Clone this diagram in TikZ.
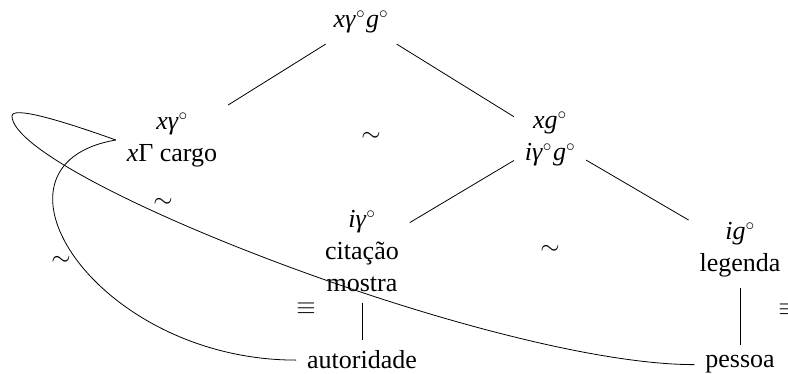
\documentclass[tikz,border=0pt]{standalone}
\usepackage{fontspec}
\setmainfont{Liberation Serif}
\begin{document}
\begin{tikzpicture}[x=1pt,y=-1pt]
\tikzset{
  lbl/.style={font=\fontsize{26}{32}\selectfont, inner sep=11pt, outer sep=0pt, align=center},
  rel/.style={font=\fontsize{30}{36}\selectfont, inner sep=0pt},
  edge/.style={line width=0.8pt},
}
\useasboundingbox (0,0) rectangle (788,374);
\node[lbl] (top) at (361,22) {\textit{xγ}$^\circ$\kern1pt\textit{g}$^\circ$};
\node[lbl] (xc) at (172,140) {\textit{xγ}$^\circ$\\\textit{x}Γ cargo};
\node[lbl] (xg) at (550,139) {\textit{xg}$^\circ$\\\textit{iγ}$^\circ$\kern1pt\textit{g}$^\circ$};
\node[lbl] (ic) at (362,251) {\textit{iγ}$^\circ$\\citação\\mostra};
\node[lbl] (il) at (740,250) {\textit{ig}$^\circ$\\legenda};
\node[lbl, anchor=base] (au) at (362,369) {autoridade};
\node[lbl, anchor=base] (pe) at (740,368) {pessoa};
\draw[edge] (top) -- (xc);
\draw[edge] (top) -- (xg);
\draw[edge] (xg) -- (ic);
\draw[edge] (xg) -- (il);
\draw[edge] (ic) -- (au);
\draw[edge] (il) -- (pe);
\draw[edge] (pe.west) .. controls +(-200,0) and (12,176) .. (12,116)
  .. controls (12,106) and (60,120) .. (xc.west);
\draw[edge] (xc.west) .. controls (-30,165) and +(-200,0) .. (au.west);
\node[rel] (s1) at (371,137) {$\sim$};
\node[rel] (s2) at (550,250) {$\sim$};
\node[rel] (s3) at (163,203) {$\sim$};
\node[rel] (s4) at (61,261) {$\sim$};
\node[rel] (e1) at (306,309) {$\equiv$};
\node[rel] (e2) at (788,310) {$\equiv$};
\end{tikzpicture}
\end{document}
